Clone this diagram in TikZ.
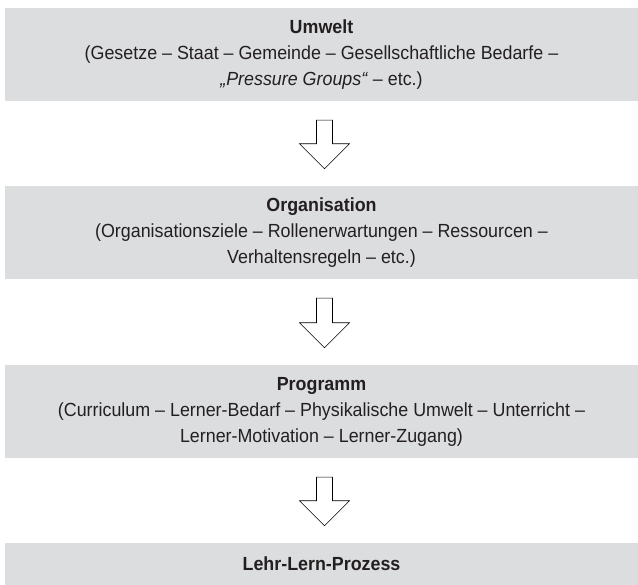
\documentclass[tikz,border=0pt]{standalone}
\usepackage{fontspec}
\setmainfont{Liberation Sans}[FakeStretch=0.94]
\usetikzlibrary{positioning, calc}
\definecolor{ebenengrau}{HTML}{DCDDDF}
\definecolor{schrift}{HTML}{231F20}

\begin{document}
\begin{tikzpicture}[x=1pt, y=-1pt, text=schrift,
    font=\fontsize{19}{26}\selectfont,
    ebene/.style={fill=ebenengrau, minimum width=633pt, inner sep=0pt, align=center},
    pfeil/.style={draw=black, fill=white, line width=0.6pt, line join=miter}]
  \useasboundingbox (0,0) rectangle (638,585);
  \node[ebene, minimum height=93pt] (umwelt) at (321.5,54.5)
    {\textbf{Umwelt}\\(Gesetze – Staat – Gemeinde – Gesellschaftliche Bedarfe –\\
     \textit{„Pressure Groups“} – etc.)};
  \node[ebene, minimum height=93pt] (organisation) at (321.5,232.5)
    {\textbf{Organisation}\\(Organisationsziele – Rollenerwartungen – Ressourcen –\\
     Verhaltensregeln – etc.)};
  \node[ebene, minimum height=93pt] (programm) at (321.5,411.5)
    {\textbf{Programm}\\(Curriculum – Lerner-Bedarf – Physikalische Umwelt – Unterricht –\\
     Lerner-Motivation – Lerner-Zugang)};
  \node[ebene, minimum height=42pt] (prozess) at (321.5,564)
    {\textbf{Lehr-Lern-Prozess}};
  \foreach \von/\nach in {umwelt/organisation, organisation/programm, programm/prozess} {
    \path ($(\von.south)+(3,19)$) coordinate (s) ($(\nach.north)+(3,-17)$) coordinate (t);
    \draw[pfeil] (s) ++(-8,0) -- ++(16,0) |- ($(t)+(8,-25)$) -- ++(17,0) -- (t)
      -- ++(-25,-25) -- ++(17,0) -- cycle;
  }
\end{tikzpicture}
\end{document}
